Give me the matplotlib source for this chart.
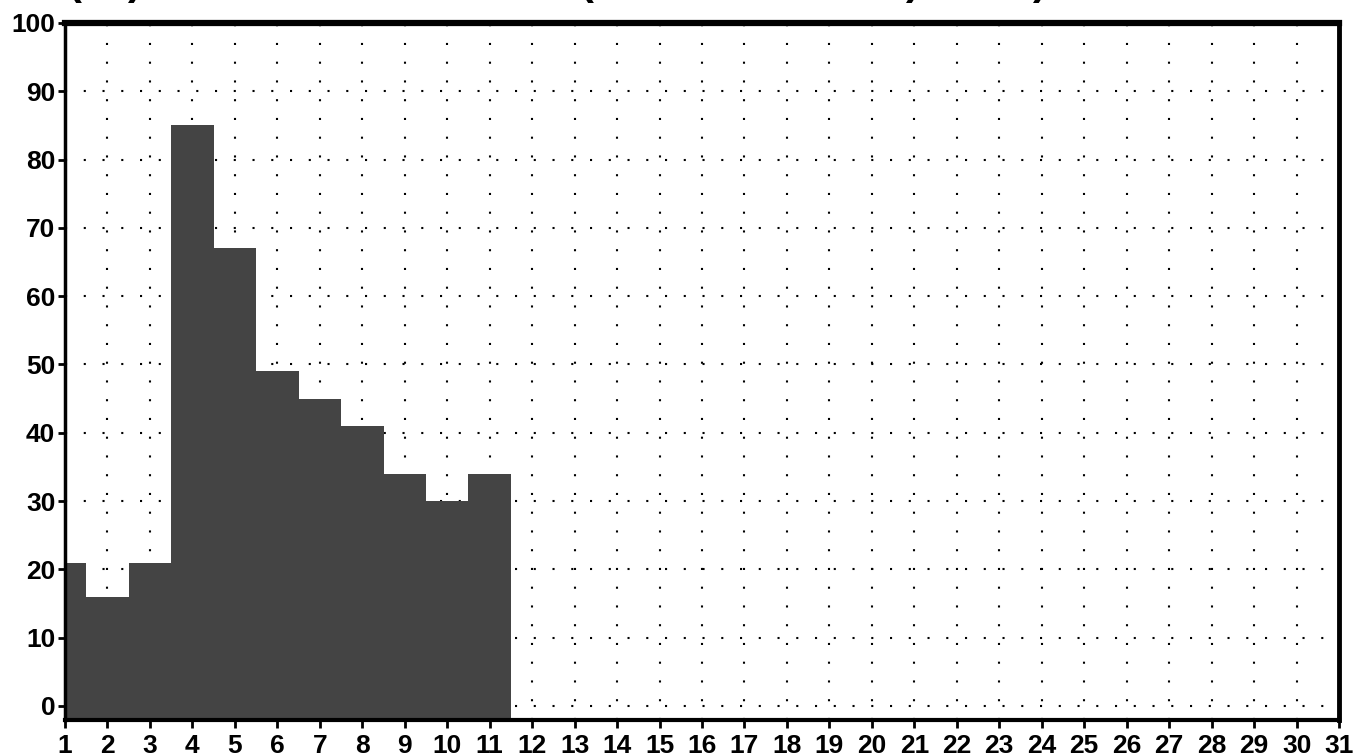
import matplotlib
matplotlib.use("Agg")
import matplotlib.pyplot as plt
from matplotlib import font_manager

# ---- data ----
days = [1, 2, 3, 4, 5, 6, 7, 8, 9, 10, 11]
values = [21, 16, 21, 85, 67, 49, 45, 41, 34, 30, 34]
x_ticks = list(range(1, 32))
y_ticks = list(range(0, 101, 10))
title_marks = [("(", 75), (")", 135), ("(", 587), (")", 913), (")", 1040)]

avail = {f.name for f in font_manager.fontManager.ttflist}
fam = [f for f in ["Liberation Sans Narrow", "Liberation Sans", "DejaVu Sans"] if f in avail]
plt.rcParams['font.family'] = fam

W, H = 1354, 756
fig = plt.figure(figsize=(W / 100, H / 100), dpi=100)
left, right, top, bottom = 65, 1339, 23, 720
ax = fig.add_axes([left / W, 1 - bottom / H, (right - left) / W, (bottom - top) / H])

ymin, ymax = -2.05, 100
ax.bar(days, [v - ymin for v in values], bottom=ymin, width=1.0, align='center',
       color='#444444', edgecolor='none', zorder=2)

ax.set_xlim(1, 31)
ax.set_ylim(ymin, ymax)
ax.set_xticks(x_ticks)
ax.set_yticks(y_ticks)
ax.set_xticklabels([str(t) for t in x_ticks])
ax.set_yticklabels([str(t) for t in y_ticks])

ax.set_axisbelow(True)
ax.grid(True, color='black', linestyle=(0, (1, 8)), linewidth=1.5)

for s, lw in [('top', 4.5), ('left', 2.5), ('right', 3.5), ('bottom', 3.0)]:
    ax.spines[s].set_linewidth(lw)
    ax.spines[s].set_color('black')

ax.tick_params(axis='x', length=6, width=2, direction='out', pad=4,
               labelsize=19)
ax.tick_params(axis='y', length=5, width=2, direction='out', pad=2,
               labelsize=19)
for lab in ax.get_xticklabels() + ax.get_yticklabels():
    lab.set_fontweight('bold')

# cut-off title: only the lower ends of its parentheses are visible
for ch, px in title_marks:
    fig.text(px / W, 1 + 6 / H, ch, fontsize=30, fontweight='bold',
             ha='center', va='baseline')

fig.savefig("out.png", dpi=100)
